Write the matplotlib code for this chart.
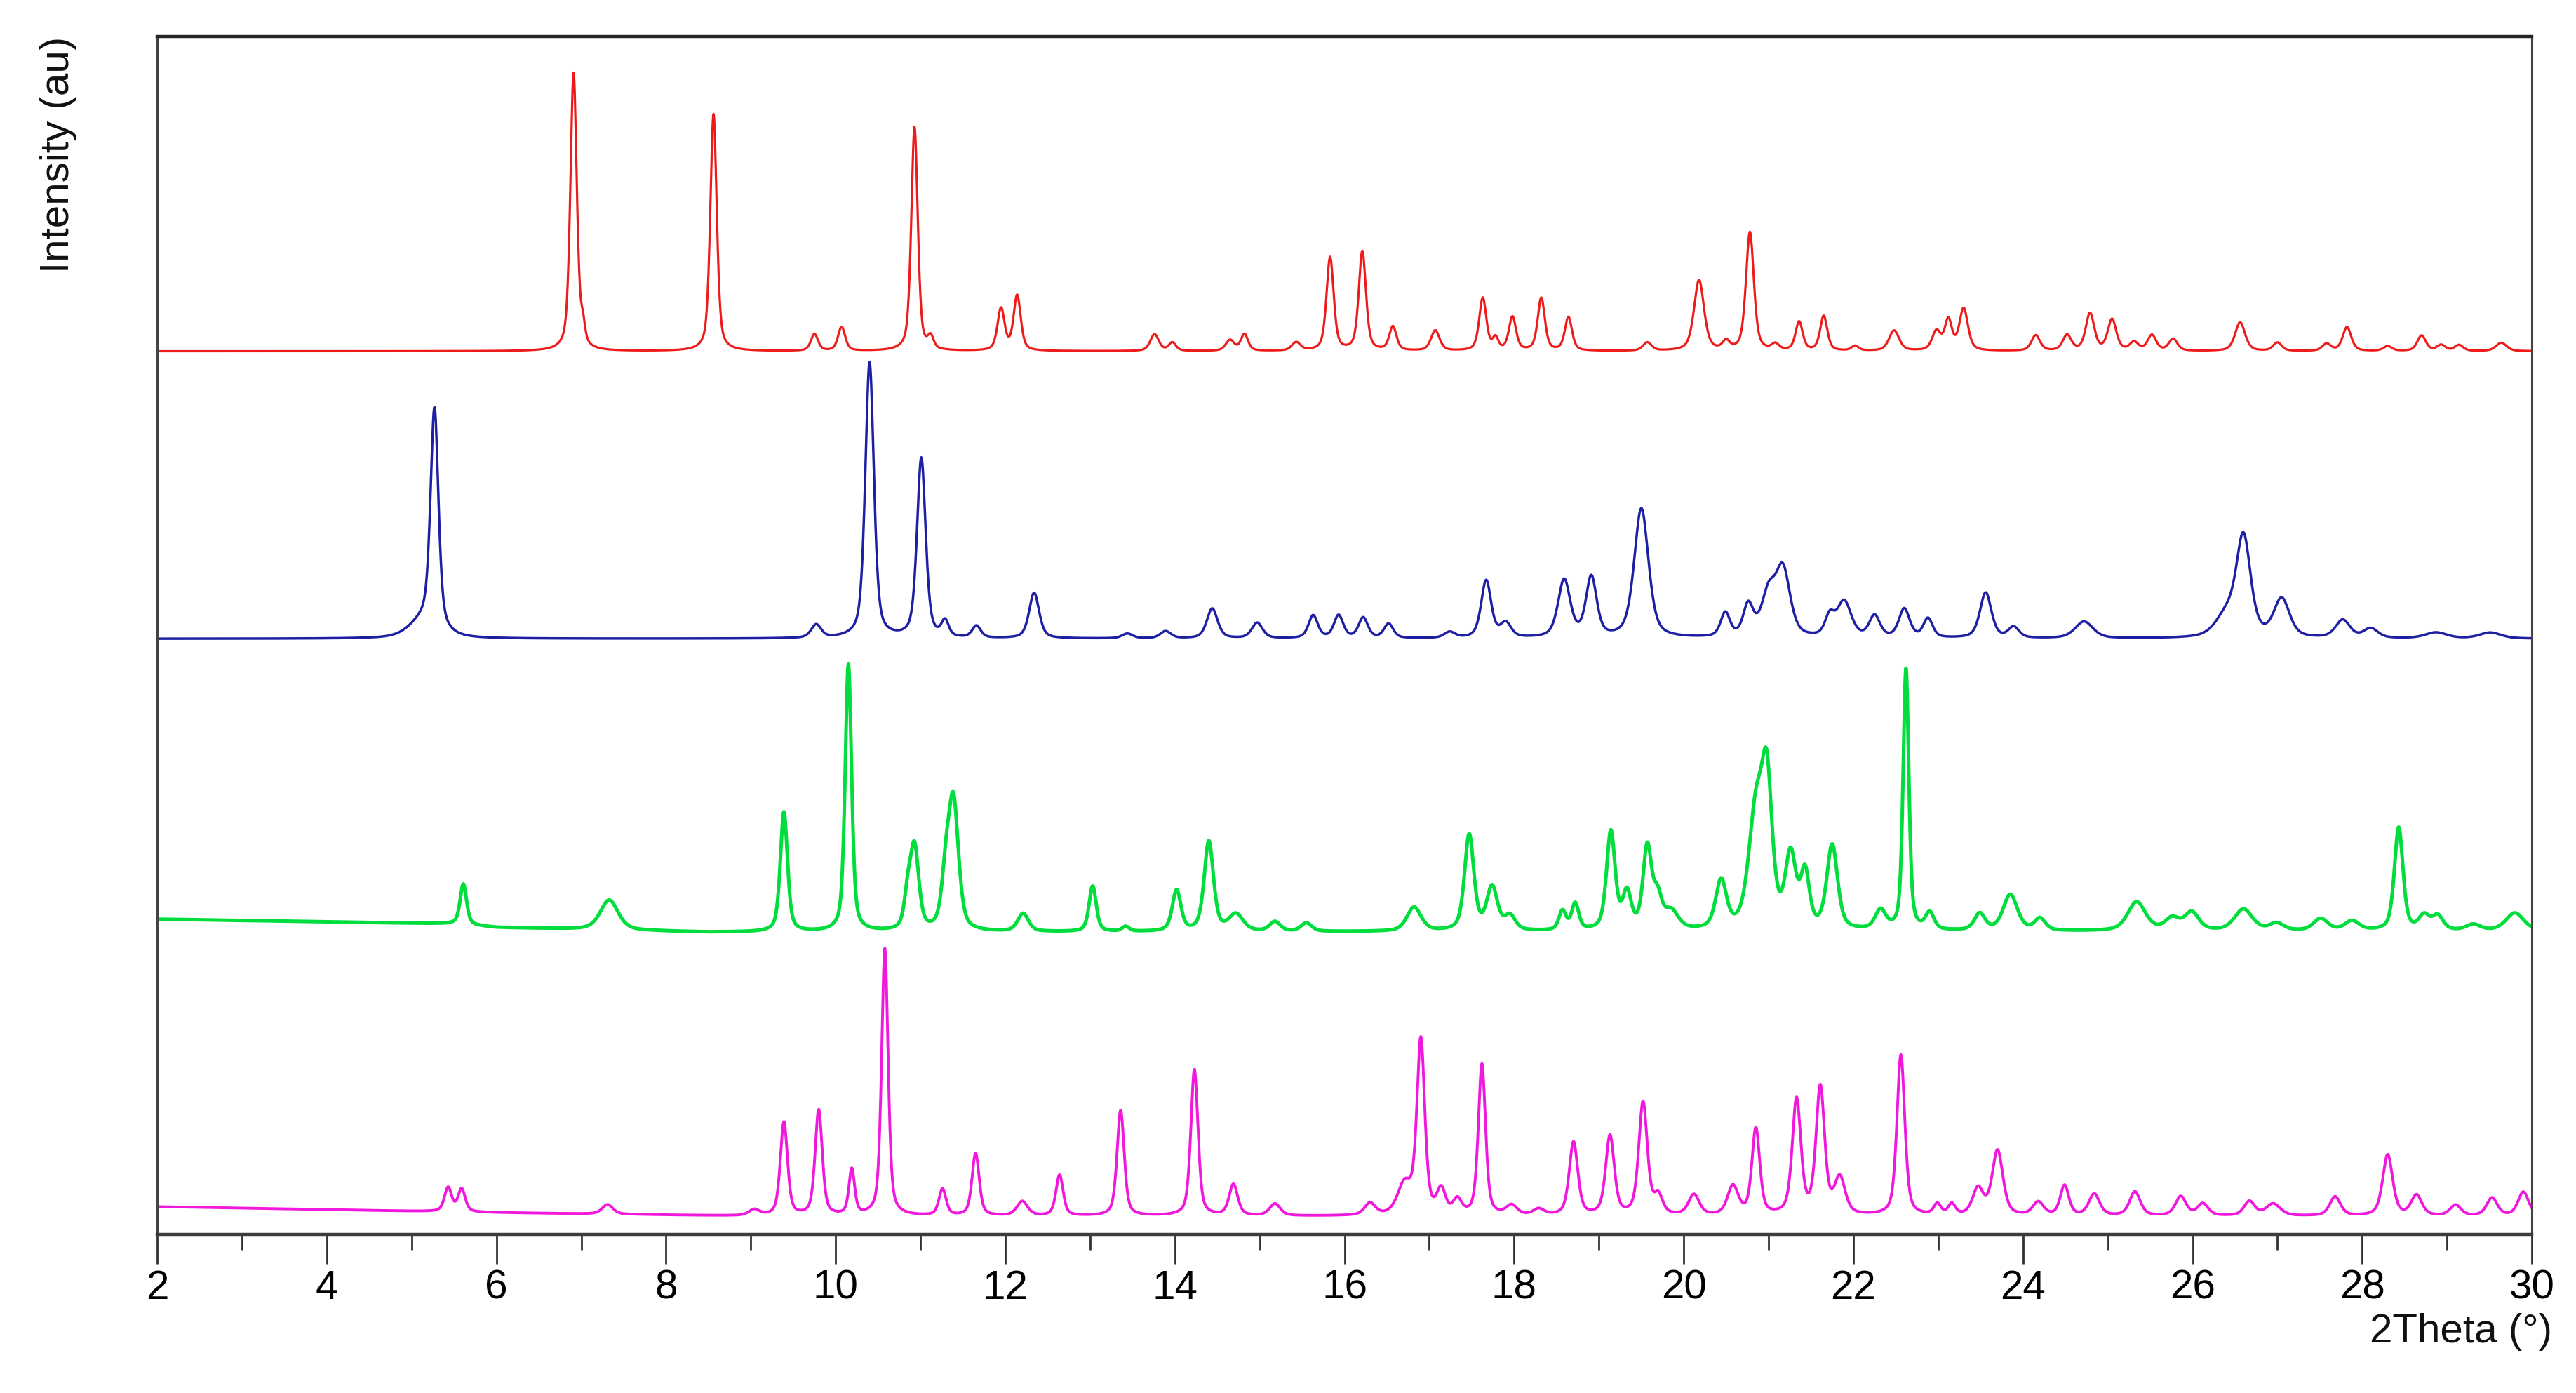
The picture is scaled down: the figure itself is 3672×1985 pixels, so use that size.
import matplotlib
matplotlib.use("Agg")
import matplotlib.pyplot as plt
import numpy as np
from matplotlib.ticker import MultipleLocator

plt.rcParams["font.family"] = ["Liberation Sans", "DejaVu Sans"]

# peak positions (2theta), heights (au above baseline) and FWHM
red_pos = [6.91, 7.02, 8.56, 9.75, 10.07, 10.93, 11.12, 11.95, 12.14, 13.76,
           13.97, 14.65, 14.82, 15.43, 15.83, 16.21, 16.57, 17.07, 17.63, 17.78,
           17.98, 18.32, 18.64, 19.57, 20.18, 20.50, 20.78, 21.08, 21.36, 21.65,
           22.02, 22.48, 22.98, 23.12, 23.30, 24.15, 24.52, 24.79, 25.05, 25.31,
           25.52, 25.77, 26.56, 27.0, 27.58, 27.82, 28.3, 28.7, 28.93, 29.14,
           29.64]
red_height = [23.2, 1.5, 19.8, 1.4, 2.0, 18.7, 1.0, 3.5, 4.6, 1.4,
              0.7, 0.9, 1.4, 0.7, 7.8, 8.3, 2.0, 1.7, 4.4, 1.0,
              2.8, 4.4, 2.8, 0.7, 5.9, 0.7, 9.9, 0.5, 2.4, 2.9,
              0.4, 1.7, 1.6, 2.5, 3.5, 1.3, 1.3, 3.1, 2.6, 0.7,
              1.3, 1.0, 2.4, 0.7, 0.6, 2.0, 0.4, 1.3, 0.5, 0.5,
              0.7]
red_fwhm = [0.09, 0.06, 0.09, 0.1, 0.1, 0.09, 0.08, 0.1, 0.1, 0.12,
            0.1, 0.12, 0.1, 0.12, 0.1, 0.1, 0.1, 0.12, 0.1, 0.08,
            0.1, 0.1, 0.1, 0.12, 0.14, 0.1, 0.11, 0.1, 0.1, 0.1,
            0.1, 0.14, 0.12, 0.1, 0.12, 0.12, 0.12, 0.12, 0.12, 0.12,
            0.12, 0.12, 0.14, 0.12, 0.12, 0.12, 0.12, 0.12, 0.12, 0.12,
            0.15]
red_base = ([2, 30], [73.7, 73.7])

blue_pos = [5.15, 5.27, 9.77, 10.40, 11.01, 11.29, 11.66, 12.34, 13.44, 13.89,
            14.44, 14.97, 15.63, 15.93, 16.22, 16.52, 17.24, 17.67, 17.9, 18.59,
            18.91, 19.5, 20.49, 20.76, 21.0, 21.17, 21.72, 21.89, 22.25, 22.6,
            22.88, 23.56, 23.89, 24.72, 26.4, 26.6, 27.05, 27.77, 28.1, 28.87,
            29.51]
blue_height = [1.5, 18.2, 1.1, 23.0, 15.0, 1.3, 1.0, 3.8, 0.4, 0.6,
               2.5, 1.3, 1.9, 1.9, 1.7, 1.2, 0.5, 4.8, 1.2, 4.8,
               5.0, 10.8, 2.0, 2.6, 3.5, 5.5, 1.6, 3.0, 1.8, 2.4,
               1.6, 3.8, 0.9, 1.4, 1.8, 8.2, 3.2, 1.5, 0.8, 0.5,
               0.5]
blue_fwhm = [0.4, 0.11, 0.14, 0.12, 0.12, 0.1, 0.12, 0.14, 0.15, 0.15,
             0.15, 0.15, 0.13, 0.13, 0.13, 0.13, 0.15, 0.14, 0.15, 0.17,
             0.15, 0.2, 0.13, 0.14, 0.2, 0.2, 0.13, 0.2, 0.15, 0.15,
             0.13, 0.16, 0.15, 0.25, 0.3, 0.2, 0.22, 0.2, 0.2, 0.3,
             0.3]
blue_base = ([2, 30], [49.7, 49.7])

green_pos = [5.61, 7.33, 9.39, 10.15, 10.85, 10.93, 11.30, 11.39, 12.21, 13.03,
             13.42, 14.02, 14.4, 14.72, 15.18, 15.55, 16.82, 17.47, 17.74, 17.95,
             18.57, 18.72, 19.14, 19.33, 19.57, 19.69, 19.85, 20.44, 20.85, 20.98,
             21.26, 21.43, 21.75, 22.32, 22.62, 22.9, 23.49, 23.85, 24.2, 25.34,
             25.76, 25.99, 26.6, 26.99, 27.51, 27.88, 28.43, 28.73, 28.89, 29.31,
             29.8]
green_height = [3.4, 2.5, 10.0, 22.3, 2.5, 6.8, 4.0, 10.5, 1.5, 3.8,
                0.4, 3.4, 7.5, 1.4, 0.8, 0.7, 2.0, 8.0, 3.6, 1.2,
                1.6, 2.2, 8.2, 3.0, 6.8, 2.5, 1.5, 4.0, 9.5, 11.5,
                6.0, 4.5, 7.0, 1.6, 21.8, 1.4, 1.4, 3.0, 1.0, 2.4,
                1.0, 1.5, 1.8, 0.6, 1.0, 0.8, 8.6, 1.2, 1.2, 0.5,
                1.5]
green_fwhm = [0.09, 0.25, 0.1, 0.09, 0.1, 0.12, 0.12, 0.14, 0.15, 0.1,
              0.1, 0.12, 0.13, 0.2, 0.15, 0.15, 0.2, 0.13, 0.15, 0.15,
              0.1, 0.1, 0.12, 0.12, 0.12, 0.12, 0.2, 0.15, 0.2, 0.15,
              0.15, 0.12, 0.15, 0.15, 0.08, 0.12, 0.15, 0.2, 0.15, 0.25,
              0.2, 0.2, 0.25, 0.2, 0.2, 0.2, 0.12, 0.15, 0.15, 0.2,
              0.25]
green_base = ([2, 5.5, 6.0, 8.5, 30], [26.3, 25.9, 25.6, 25.2, 25.3])

magenta_pos = [5.43, 5.59, 7.31, 9.04, 9.39, 9.8, 10.19, 10.58, 11.26, 11.65,
               12.2, 12.64, 13.36, 14.23, 14.69, 15.18, 16.3, 16.71, 16.9, 17.14,
               17.33, 17.62, 17.97, 18.29, 18.7, 19.13, 19.52, 19.7, 20.12, 20.58,
               20.85, 21.33, 21.61, 21.84, 22.56, 22.99, 23.16, 23.47, 23.7, 24.18,
               24.49, 24.84, 25.32, 25.86, 26.12, 26.67, 26.95, 27.68, 28.3, 28.64,
               29.1, 29.53, 29.9]
magenta_height = [2.0, 1.9, 0.8, 0.5, 7.8, 8.8, 3.8, 22.3, 2.2, 5.2,
                  1.2, 3.4, 8.8, 12.2, 2.6, 1.0, 1.0, 2.5, 14.5, 2.0,
                  1.2, 12.6, 0.8, 0.5, 6.1, 6.6, 9.4, 1.5, 1.7, 2.4,
                  7.2, 9.6, 10.6, 3.0, 13.4, 0.9, 0.9, 2.2, 5.4, 1.1,
                  2.5, 1.8, 2.0, 1.6, 1.0, 1.2, 1.0, 1.6, 5.1, 1.7,
                  0.9, 1.5, 2.0]
magenta_fwhm = [0.1, 0.1, 0.15, 0.15, 0.1, 0.1, 0.08, 0.09, 0.1, 0.1,
                0.15, 0.1, 0.1, 0.1, 0.12, 0.15, 0.15, 0.2, 0.11, 0.12,
                0.12, 0.1, 0.15, 0.15, 0.12, 0.12, 0.12, 0.12, 0.15, 0.15,
                0.11, 0.12, 0.12, 0.15, 0.11, 0.1, 0.1, 0.15, 0.15, 0.15,
                0.12, 0.15, 0.15, 0.15, 0.15, 0.15, 0.2, 0.15, 0.14, 0.15,
                0.15, 0.15, 0.15]
magenta_base = ([2, 6.0, 9.0, 30], [2.3, 1.8, 1.5, 1.5])

x_ticks = list(range(2, 31, 2))


def pattern(x, pos, height, fwhm, base, eta=0.5):
    y = np.interp(x, base[0], base[1])
    for x0, h, w in zip(pos, height, fwhm):
        d = (x - x0) / w
        lor = 1.0 / (1.0 + 4.0 * d ** 2)
        gau = np.exp(-4.0 * np.log(2) * d ** 2)
        y = y + h * (eta * lor + (1 - eta) * gau)
    return y


x = np.linspace(2, 30, 5601)

series = [
    (red_pos, red_height, red_fwhm, red_base, "#ee1b1b", 2.3),
    (blue_pos, blue_height, blue_fwhm, blue_base, "#1f1fa3", 2.5),
    (green_pos, green_height, green_fwhm, green_base, "#00dd3c", 3.6),
    (magenta_pos, magenta_height, magenta_fwhm, magenta_base, "#f018dc", 2.8),
]

fig = plt.figure(figsize=(36.73, 19.85), dpi=100)
ax = fig.add_axes([0.061, 0.114, 0.9216, 0.86])

for pos, height, fwhm, base, color, lw in series:
    ax.plot(x, pattern(x, pos, height, fwhm, base), color=color, lw=lw)

ax.set_xlim(2, 30)
ax.set_ylim(0, 100)
ax.set_xticks(x_ticks)
ax.xaxis.set_minor_locator(MultipleLocator(1))
ax.set_yticks([])
ax.tick_params(axis="x", which="major", direction="out", length=30, width=2,
               color="#333333", labelsize=42, pad=6)
ax.tick_params(axis="x", which="minor", direction="out", length=16, width=2,
               color="#333333")

for side in ["left", "right"]:
    ax.spines[side].set_linewidth(2.2)
    ax.spines[side].set_color("#444444")
ax.spines["top"].set_linewidth(3.2)
ax.spines["top"].set_color("#262626")
ax.spines["bottom"].set_linewidth(3.2)
ax.spines["bottom"].set_color("#3c3c3c")

fig.text(0.9904, 0.0438, "2Theta (°)", ha="right", va="center", fontsize=42, color="#111111")
fig.text(0.0225, 0.974, "Intensity (au)", rotation=90, ha="center", va="top",
         fontsize=42, color="#111111")

fig.savefig("out.png", dpi=100)
